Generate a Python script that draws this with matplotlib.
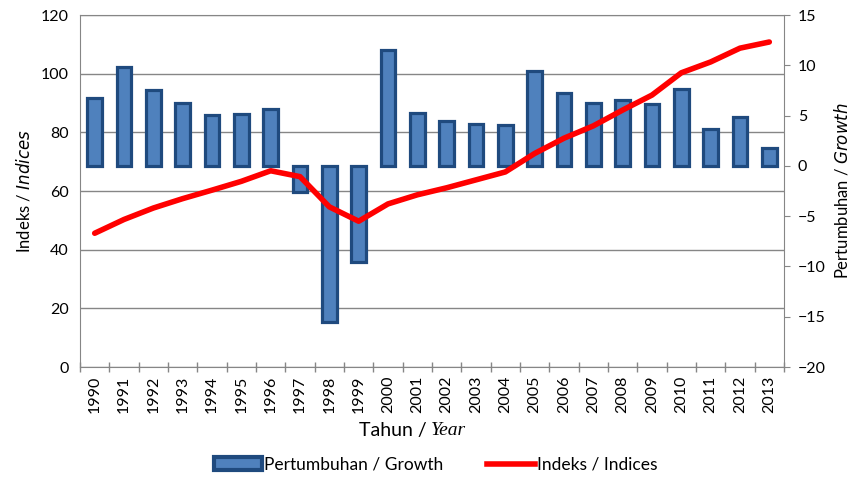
import matplotlib.pyplot as plt
import numpy as np

years = [str(y) for y in range(1990, 2014)]
growth = [6.7, 9.8, 7.5, 6.3, 5.1, 5.2, 5.7, -2.6, -15.5, -9.6, 11.5, 5.3,
          4.5, 4.2, 4.1, 9.4, 7.2, 6.3, 6.5, 6.2, 7.6, 3.7, 4.9, 1.8]
indices = [45.6, 50.3, 54.2, 57.4, 60.3, 63.3, 66.9, 64.9, 54.6, 49.7, 55.6, 58.7,
           61.1, 63.8, 66.5, 72.8, 78.0, 82.2, 87.6, 92.7, 100.3, 104.0, 108.7, 110.8]

plt.rcParams['font.family'] = ['Lato', 'DejaVu Sans']
grey = '#868686'
fill = '#4F81BD'
edge = '#1F4A7E'

x = np.arange(len(years))

fig = plt.figure(figsize=(8.54, 4.78), dpi=100)
ax = fig.add_axes([0.0937, 0.2322, 0.8243, 0.7364])

# left axis: grid + index scale
ax.set_ylim(0, 120)
ax.set_yticks(range(0, 121, 20))
ax.yaxis.grid(True, color=grey, lw=1)
ax.set_axisbelow(True)
ax.set_xlim(-0.5, len(years) - 0.5)
ax.set_xticks(x)
ax.set_xticklabels(years, rotation=90, fontsize=11.5)
ax.set_xticks(np.arange(-0.5, len(years)), minor=True)
ax.tick_params(axis='x', which='major', length=0, pad=6)
ax.tick_params(axis='x', which='minor', length=7, direction='inout', color=grey, width=1)
ax.tick_params(axis='y', length=0, labelsize=11.5, pad=8)
for s in ax.spines.values():
    s.set_color(grey)
ax.set_ylabel('Indeks / $\\it{Indices}$', fontsize=12, labelpad=6)
fig.text(0.505, 0.10, 'Tahun / ', fontsize=14, ha='right', va='center')
fig.text(0.505, 0.10, 'Year', fontsize=14, ha='left', va='center',
         family='Liberation Serif', style='italic')

# right axis: growth bars
axb = ax.twinx()
axb.bar(x, growth, width=0.5, color=fill, edgecolor=edge, linewidth=2.3)
axb.set_ylim(-20, 15)
axb.set_yticks(range(-20, 16, 5))
axb.tick_params(axis='y', length=4, direction='out', color=grey, labelsize=11.5, pad=6)
for s in axb.spines.values():
    s.set_visible(False)
axb.set_ylabel('Pertumbuhan / $\\it{Growth}$', fontsize=12, labelpad=5)

# line on top, left scale
axl = ax.twinx()
axl.plot(x, indices, color='#FF0000', lw=4, solid_capstyle='round')
axl.set_ylim(0, 120)
axl.set_yticks([])
for s in axl.spines.values():
    s.set_visible(False)

h1 = plt.Rectangle((0, 0), 1, 1, facecolor=fill, edgecolor=edge, linewidth=3)
h2 = plt.Line2D([0], [0], color='#FF0000', lw=4)
fig.legend([h1, h2], ['Pertumbuhan / Growth', 'Indeks / Indices'],
           loc='center', bbox_to_anchor=(0.51, 0.028), ncol=2, frameon=False,
           fontsize=12.5, handlelength=2.8, handletextpad=0.1, columnspacing=2.5)

fig.savefig('out.png', dpi=100)
